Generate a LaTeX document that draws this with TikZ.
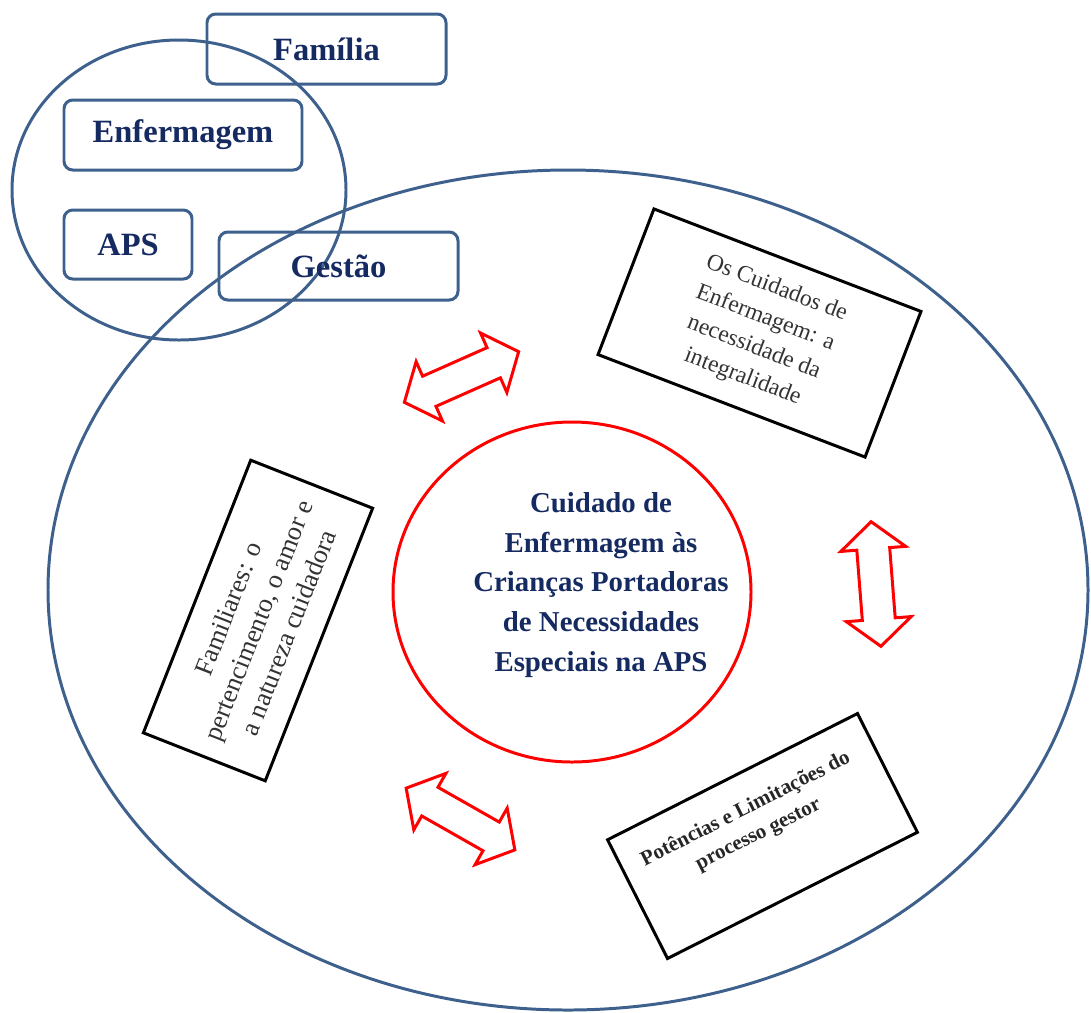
\documentclass[tikz,border=0pt]{standalone}
\usepackage{fontspec}
\setmainfont{Liberation Serif}
\usetikzlibrary{shapes.geometric, shapes.arrows}
\definecolor{lineblue}{RGB}{62,96,140}
\definecolor{titleblue}{RGB}{22,42,98}
\newlength{\pxunit}
\setlength{\pxunit}{0.02cm}

\begin{document}
\begin{tikzpicture}[
    x=0.02cm, y=-0.02cm,
    zone/.style={ellipse, draw=lineblue, line width=1.7pt, inner sep=0pt},
    areabox/.style={rectangle, rounded corners=5pt, draw=lineblue, line width=1.7pt, inner sep=0pt, text=titleblue, font=\fontsize{18.5}{22}\selectfont\bfseries},
    themebox/.style={rectangle, draw=black, line width=1.7pt, inner sep=0pt, align=center, text=black!80},
    twoway/.style={double arrow, draw=red, fill=white, line width=1.7pt, inner xsep=0pt, inner ysep=15\pxunit, double arrow head extend=16\pxunit, double arrow tip angle=100, minimum height=125\pxunit}
]
    \useasboundingbox (0,0) rectangle (1091,1012);
    \clip (0,0) rectangle (1091,1012);

    % outer areas
    \node[zone, minimum width=1040\pxunit, minimum height=840\pxunit] (practice) at (568,590) {};
    \node[zone, minimum width=334\pxunit, minimum height=300\pxunit] (actors) at (179,190) {};

    \node[areabox, minimum width=239\pxunit, minimum height=70\pxunit] (familia) at (326.5,49) {Família};
    \node[areabox, minimum width=238\pxunit, minimum height=70\pxunit] (enfermagem) at (183,135) {Enfermagem};
    \node[areabox, minimum width=128\pxunit, minimum height=69\pxunit] (aps) at (128,244.5) {APS};
    \node[areabox, minimum width=239\pxunit, minimum height=68\pxunit] (gestao) at (338.5,266) {Gestão};

    % core theme
    \node[ellipse, draw=red, line width=1.7pt, inner sep=0pt, minimum width=358\pxunit, minimum height=340\pxunit] (core) at (572,592) {};
    \node[align=center, text=titleblue, font=\fontsize{16.4}{22.7}\selectfont\bfseries] (coretitle) at (601,585) {Cuidado de\\Enfermagem às\\Crianças Portadoras\\de Necessidades\\Especiais na APS};

    % categories
    \node[themebox, minimum width=286\pxunit, minimum height=156\pxunit, rotate=-21, font=\fontsize{13.4}{18}\selectfont] (care) at (759.5,333) {Os Cuidados de\\Enfermagem: a\\necessidade da\\integralidade};
    \node[themebox, minimum width=293\pxunit, minimum height=131\pxunit, rotate=68.5, font=\fontsize{15}{18.5}\selectfont] (family) at (258,620.5) {Familiares: o\\pertencimento, o amor e\\a natureza cuidadora};
    \node[themebox, minimum width=280\pxunit, minimum height=133\pxunit, rotate=26.8] (manage) at (762.5,836) {};
    \node[rotate=26.8, align=center, text=black!85, font=\fontsize{12}{16}\selectfont\bfseries] (managetext) at (752,822) {Potências e Limitações do\\processo gestor};

    % two-way links
    \node[twoway, rotate=23.9] (arrowtop) at (461.5,377) {};
    \node[twoway, rotate=94.5] (arrowright) at (876,584) {};
    \node[twoway, rotate=-29.6] (arrowbottom) at (460.5,819) {};

\end{tikzpicture}
\end{document}
